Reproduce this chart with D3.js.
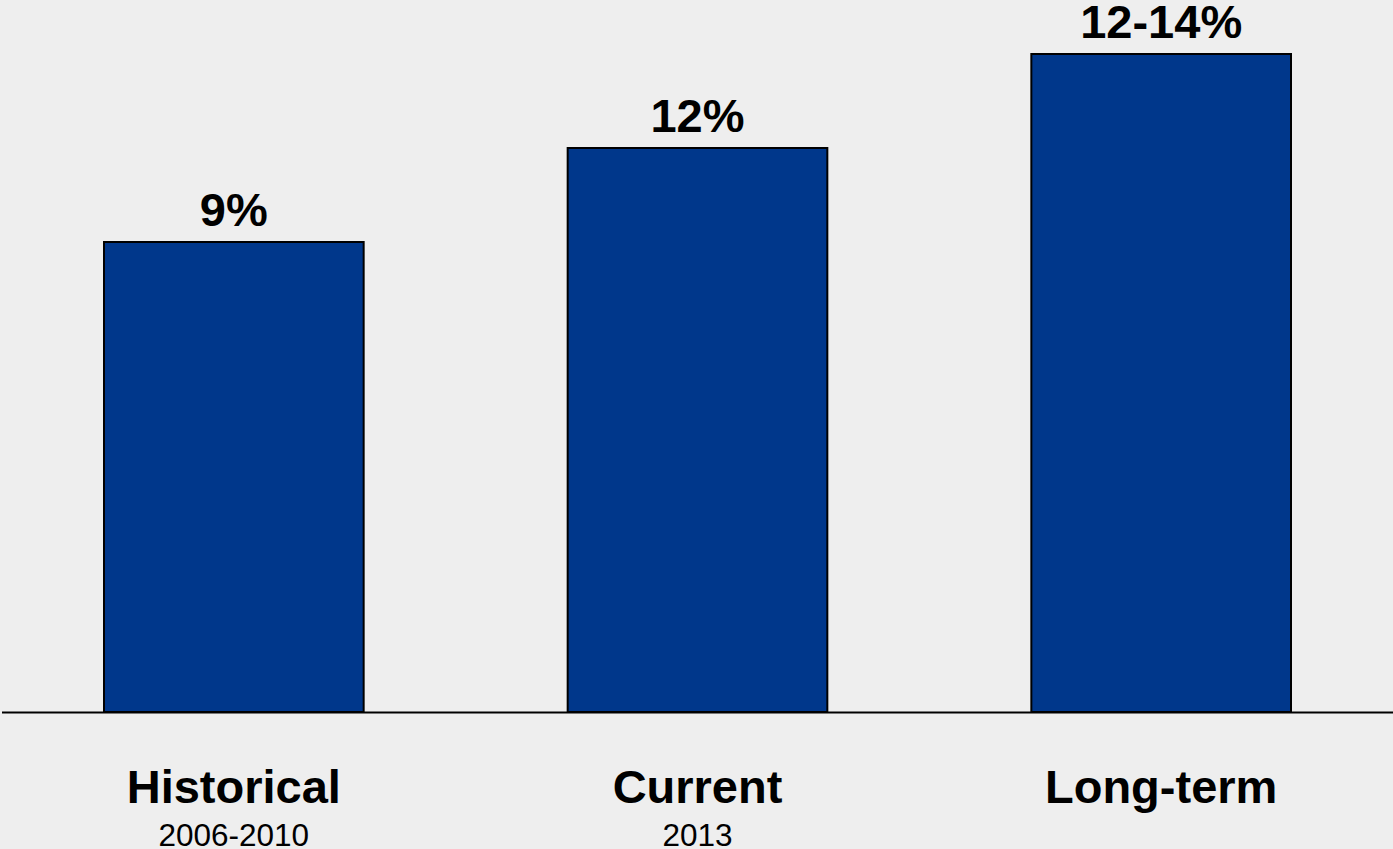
<!DOCTYPE html>
<html>
<head>
<meta charset="utf-8">
<script src="https://cdn.jsdelivr.net/npm/d3@7"></script>
<style>
  html, body { margin: 0; padding: 0; background: #eeeeee; }
  svg { display: block; }
</style>
</head>
<body>
<div id="chart"></div>
<script>
const categories = ["Historical", "Current", "Long-term"];
const subLabels = ["2006-2010", "2013", ""];
const values = [9, 12, 15];
const valueLabels = ["9%", "12%", "12-14%"];

const W = 1393, H = 849;
const svg = d3.select("#chart").append("svg").attr("width", W).attr("height", H);
svg.append("rect").attr("width", W).attr("height", H).attr("fill", "#eeeeee");

const x = d3.scaleBand().domain(categories).range([104, 1291]).paddingInner(0.44).paddingOuter(0);
const y = d3.scaleLinear().domain([-6, 15]).range([712, 54]);

const data = categories.map((c, i) => ({ c, v: values[i], lab: valueLabels[i], sub: subLabels[i] }));

svg.selectAll("rect.bar").data(data).enter().append("rect")
  .attr("class", "bar")
  .attr("x", d => x(d.c))
  .attr("y", d => y(d.v))
  .attr("width", x.bandwidth())
  .attr("height", d => y(-6) - y(d.v))
  .attr("fill", "#00378b")
  .attr("stroke", "#000")
  .attr("stroke-width", 2);

svg.append("line")
  .attr("x1", 2).attr("x2", W)
  .attr("y1", y(-6) + 0.5).attr("y2", y(-6) + 0.5)
  .attr("stroke", "#000").attr("stroke-width", 2);

const font = "'Liberation Sans', Arial, Helvetica, sans-serif";

svg.selectAll("text.val").data(data).enter().append("text")
  .attr("class", "val")
  .attr("x", d => x(d.c) + x.bandwidth() / 2)
  .attr("y", d => y(d.v) - 16)
  .attr("text-anchor", "middle")
  .attr("font-family", font).attr("font-weight", "bold").attr("font-size", 47)
  .attr("fill", "#000")
  .text(d => d.lab);

svg.selectAll("text.cat").data(data).enter().append("text")
  .attr("class", "cat")
  .attr("x", d => x(d.c) + x.bandwidth() / 2)
  .attr("y", 803)
  .attr("text-anchor", "middle")
  .attr("font-family", font).attr("font-weight", "bold").attr("font-size", 47)
  .attr("fill", "#000")
  .text(d => d.c);

svg.selectAll("text.sub").data(data.filter(d => d.sub)).enter().append("text")
  .attr("class", "sub")
  .attr("x", d => x(d.c) + x.bandwidth() / 2)
  .attr("y", 846)
  .attr("text-anchor", "middle")
  .attr("font-family", font).attr("font-size", 31.5)
  .attr("fill", "#000")
  .text(d => d.sub);
</script>
</body>
</html>
